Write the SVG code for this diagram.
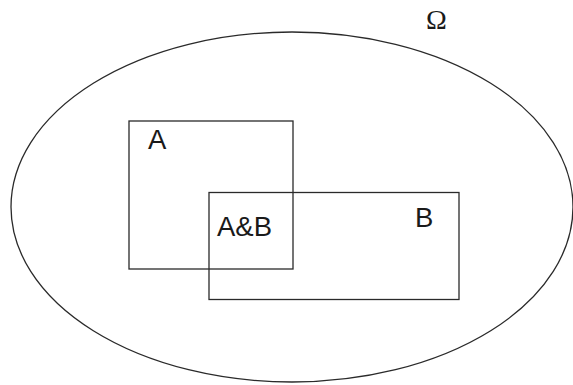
<svg xmlns="http://www.w3.org/2000/svg" width="573" height="385" viewBox="0 0 573 385">
<style>
.s{fill:none;stroke:#2a2a2a;stroke-width:1.3}
.t{font-family:"Liberation Sans",Arial,sans-serif;font-size:27.5px;fill:#1a1a1a}
.o{font-family:"Liberation Serif","Times New Roman",serif;font-size:28px;fill:#1a1a1a}
</style>
<rect width="573" height="385" fill="#fff"/>
<g id="omega">
<ellipse class="s" cx="292" cy="207" rx="281" ry="175"/>
<text class="o" x="426" y="29">Ω</text>
</g>
<g id="A">
<rect class="s" x="129" y="121" width="164" height="148"/>
<text class="t" x="148" y="149">A</text>
</g>
<g id="B">
<rect class="s" x="209" y="192.5" width="250" height="107"/>
<text class="t" x="415" y="227">B</text>
</g>
<g id="AB">
<text class="t" x="217" y="236">A&amp;B</text>
</g>
<g id="connectors"/>
</svg>
